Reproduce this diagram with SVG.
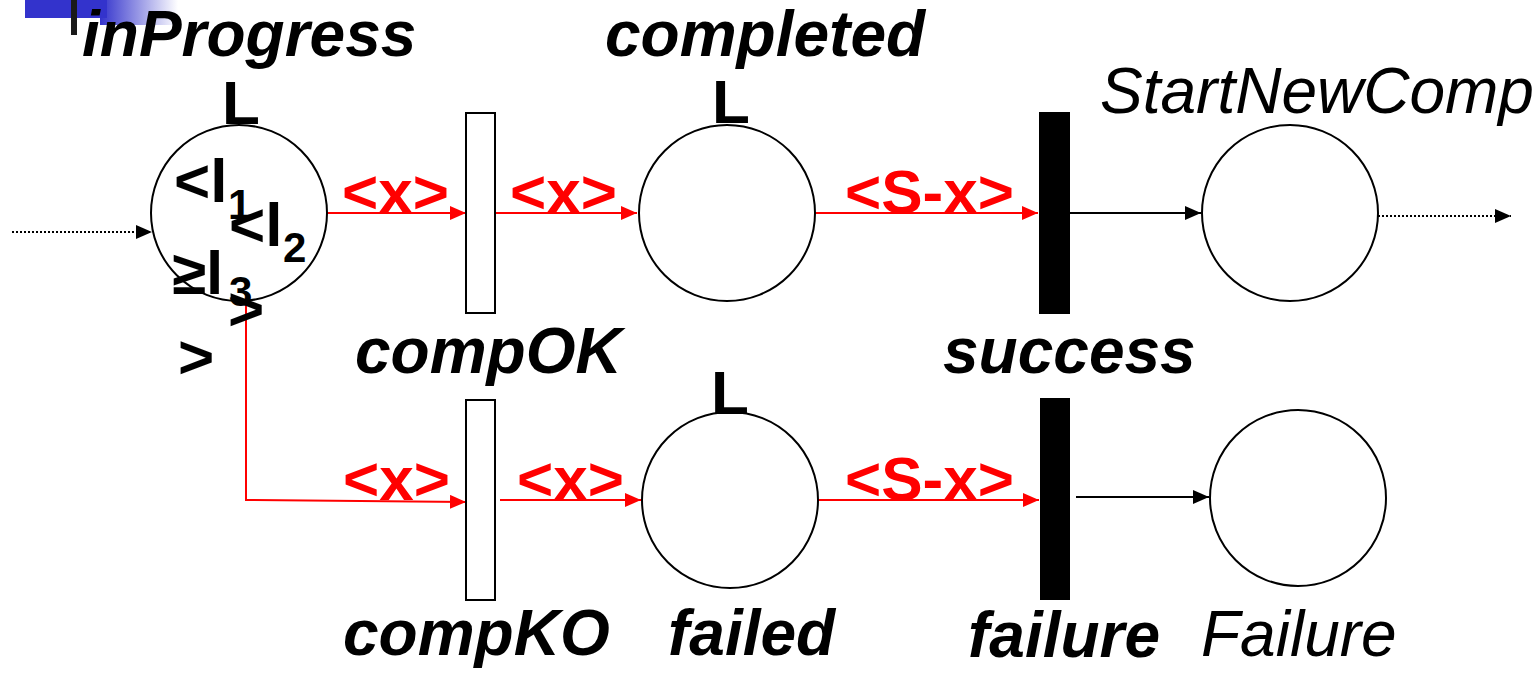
<svg xmlns="http://www.w3.org/2000/svg" width="1537" height="675" viewBox="0 0 1537 675">
<style>
.place{fill:#fff;stroke:#000;stroke-width:2}
.tw{fill:#fff;stroke:#000;stroke-width:2}
.tb{fill:#000}
.lbl{font-family:"Liberation Sans",Arial,sans-serif;font-size:64px;font-weight:bold;font-style:italic;fill:#000}
.lblp{font-family:"Liberation Sans",Arial,sans-serif;font-size:64px;font-style:italic;fill:#000}
.cap{font-family:"Liberation Sans",Arial,sans-serif;font-size:62px;font-weight:bold;fill:#000}
.tok{font-family:"Liberation Sans",Arial,sans-serif;font-size:62px;font-weight:bold;fill:#000}
.sub{font-family:"Liberation Sans",Arial,sans-serif;font-size:42px;font-weight:bold;fill:#000}
.red{font-family:"Liberation Sans",Arial,sans-serif;font-size:62px;font-weight:bold;fill:#ff0000}
.ar{fill:none;stroke:#ff0000;stroke-width:2;marker-end:url(#mr)}
.ab{fill:none;stroke:#000;stroke-width:2;marker-end:url(#mb)}
.ad{fill:none;stroke:#000;stroke-width:2;stroke-dasharray:2 2;marker-end:url(#mb)}
</style>
<defs>
<marker id="mr" markerUnits="userSpaceOnUse" markerWidth="16" markerHeight="14" refX="16" refY="7" orient="auto"><path d="M0,0 L16,7 L0,14 z" fill="#ff0000"/></marker>
<marker id="mb" markerUnits="userSpaceOnUse" markerWidth="16" markerHeight="14" refX="16" refY="7" orient="auto"><path d="M0,0 L16,7 L0,14 z" fill="#000"/></marker>
<linearGradient id="bg" x1="0" y1="0" x2="1" y2="0"><stop offset="0" stop-color="#3333cc"/><stop offset="1" stop-color="#ffffff"/></linearGradient>
</defs>
<rect width="1537" height="675" fill="#fff"/>
<g id="decoration">
<rect x="100" y="0" width="78" height="25" fill="url(#bg)"/>
<rect x="25" y="0" width="82" height="18" fill="#3333cc"/>
<rect x="71" y="0" width="6" height="35" fill="#1a1a1a"/>
</g>
<g id="connectors">
<path class="ad" d="M12,232 H152"/>
<path class="ar" d="M327,213 H466"/>
<path class="ar" d="M495,213 H637"/>
<path class="ar" d="M815,213 H1038"/>
<path class="ab" d="M1070,213 H1201"/>
<path class="ad" d="M1378,216 H1511"/>
<path class="ar" d="M246,297 V500 L466,502"/>
<path class="ar" d="M500,500 H641"/>
<path class="ar" d="M818,500 H1039"/>
<path class="ab" d="M1076,497 H1209"/>
<text class="red" x="342" y="213">&lt;x&gt;</text>
<text class="red" x="510" y="213">&lt;x&gt;</text>
<text class="red" x="845" y="213">&lt;S-x&gt;</text>
<text class="red" x="343" y="500">&lt;x&gt;</text>
<text class="red" x="517" y="500">&lt;x&gt;</text>
<text class="red" x="845" y="500">&lt;S-x&gt;</text>
</g>
<g id="inProgress">
<circle class="place" cx="239" cy="213" r="88"/>
<text class="lbl" x="82" y="56">inProgress</text>
<text class="cap" x="241" y="124" text-anchor="middle">L</text>
<text class="tok" x="174" y="202">&lt;l</text>
<text class="sub" x="228" y="219">1</text>
<text class="tok" x="229" y="246">&lt;l</text>
<text class="sub" x="283" y="262">2</text>
<text class="tok" x="172" y="294">≥l</text>
<text class="sub" x="229" y="306">3</text>
<text class="tok" x="228" y="330">&gt;</text>
<text class="tok" x="178" y="378">&gt;</text>
</g>
<g id="compOK">
<rect class="tw" x="466" y="113" width="29" height="200"/>
<text class="lbl" x="355" y="373">compOK</text>
</g>
<g id="completed">
<circle class="place" cx="727" cy="213" r="88"/>
<text class="lbl" x="605" y="56">completed</text>
<text class="cap" x="731" y="123" text-anchor="middle">L</text>
</g>
<g id="success">
<rect class="tb" x="1039" y="112" width="31" height="202"/>
<text class="lbl" x="943" y="373">success</text>
</g>
<g id="StartNewComp">
<circle class="place" cx="1290" cy="213" r="88"/>
<text class="lblp" x="1100" y="113">StartNewComp</text>
</g>
<g id="compKO">
<rect class="tw" x="466" y="400" width="29" height="200"/>
<text class="lbl" x="343" y="655">compKO</text>
</g>
<g id="failed">
<circle class="place" cx="730" cy="500" r="88"/>
<text class="cap" x="730" y="414" text-anchor="middle">L</text>
<text class="lbl" x="668" y="655">failed</text>
</g>
<g id="failure">
<rect class="tb" x="1040" y="398" width="30" height="202"/>
<text class="lbl" x="968" y="657">failure</text>
</g>
<g id="Failure">
<circle class="place" cx="1298" cy="498" r="88"/>
<text class="lblp" x="1201" y="656">Failure</text>
</g>
</svg>
